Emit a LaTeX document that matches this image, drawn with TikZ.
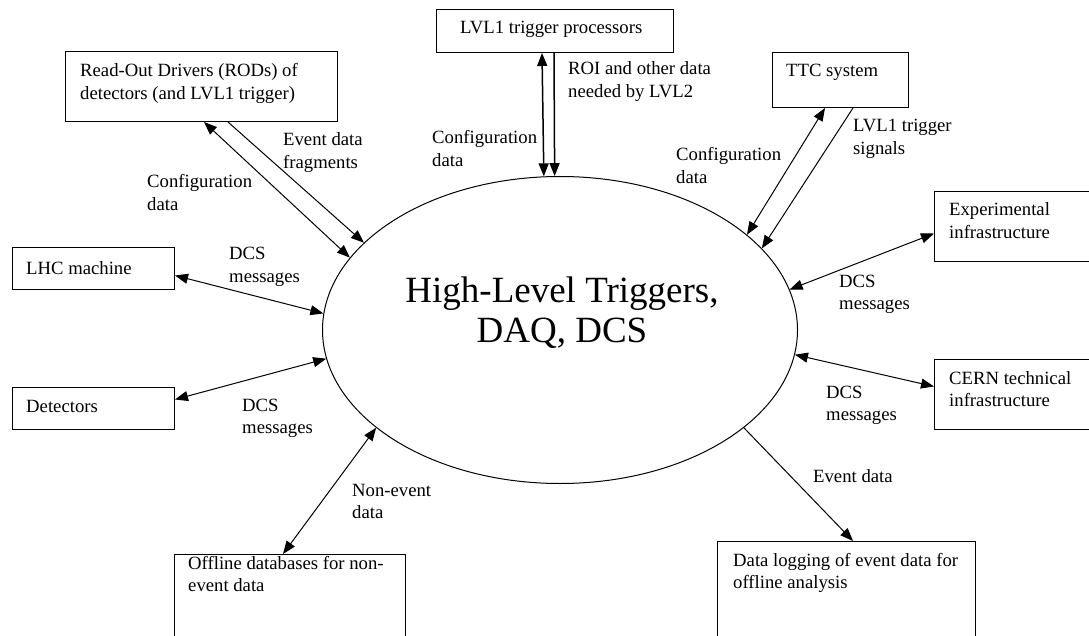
\documentclass[tikz,border=0pt]{standalone}
\usepackage{fontspec}
\setmainfont{Liberation Serif}
\usetikzlibrary{arrows.meta,shapes.geometric,calc}
\begin{document}
\begin{tikzpicture}[x=1pt,y=-1pt,
  box/.style={draw, line width=1pt, inner sep=0pt, anchor=north west},
  txt/.style={inner sep=0pt, anchor=base west, align=left,
    font=\fontsize{18.7}{22.5}\selectfont},
  big/.style={inner sep=0pt, anchor=base, align=center,
    font=\fontsize{37}{40}\selectfont},
  conn/.style={line width=1pt},
  vconn/.style={line width=1.5pt},
  tip/.style={-{Triangle[length=13pt,width=10pt]}},
  tips/.style={{Triangle[length=13pt,width=10pt]}-{Triangle[length=13pt,width=10pt]}}]
\clip (0,0) rectangle (1089,636);
\fill[white] (0,0) rectangle (1089,636);

% central ellipse
\node[draw, line width=1pt, ellipse, minimum width=475pt, minimum height=307pt, inner sep=0pt] (core) at (560,330) {};
\node[big] (coret) at (562,342) {High-Level Triggers,\\DAQ, DCS};

% boxes
\node[box, minimum width=272pt, minimum height=70pt] (rod) at (65,51) {};
\node[box, minimum width=237pt, minimum height=43pt] (lvl1) at (436,9) {};
\node[box, minimum width=136pt, minimum height=55pt] (ttc) at (772,52) {};
\node[box, minimum width=162pt, minimum height=42pt] (lhc) at (12,247) {};
\node[box, minimum width=162pt, minimum height=42pt] (det) at (12,387) {};
\node[box, minimum width=170pt, minimum height=70pt] (exp) at (934,191) {};
\node[box, minimum width=170pt, minimum height=70pt] (cern) at (934,359) {};
\node[box, minimum width=231pt, minimum height=120pt] (off) at (174,554) {};
\node[box, minimum width=258pt, minimum height=120pt] (log) at (717,541) {};

% box texts (base = baseline of last line)
\node[txt] (rodt) at (80,99.5) {Read-Out Drivers (RODs) of\\detectors (and LVL1 trigger)};
\node[txt] (lvl1t) at (460,34) {LVL1 trigger processors};
\node[txt] (ttct) at (786,77) {TTC system};
\node[txt] (lhct) at (26,274) {LHC machine};
\node[txt] (dett) at (26,412) {Detectors};
\node[txt] (expt) at (949,238.5) {Experimental\\infrastructure};
\node[txt] (cernt) at (949,406.5) {CERN technical\\infrastructure};
\node[txt] (offt) at (188,591.5) {Offline databases for non-\\event data};
\node[txt] (logt) at (733,588.5) {Data logging of event data for\\offline analysis};

% connectors
\draw[conn, tips] ($(rod.south west)+(139,0)$) -- (core.161.2);
\draw[conn, tip] ($(rod.south west)+(163,0)$) -- (core.156.8);
\draw[vconn, tips] ($(lvl1.south west)+(106,0)$) -- (core.96.7);
\draw[vconn, tip] ($(lvl1.south west)+(118,0)$) -- (core.92.2);
\draw[conn, tips] ($(ttc.south west)+(53,0)$) -- (core.27.9);
\draw[conn, tip] ($(ttc.south west)+(81,0)$) -- (core.22.6);
\draw[conn, tips] ($(lhc.east)+(0,7)$) -- (core.176.4);
\draw[conn, tips] ($(det.east)+(0,-9)$) -- (core.187.0);
\draw[conn, tips] ($(exp.west)+(0,7)$) -- (core.10.6);
\draw[conn, tips] ($(cern.west)+(0,-8)$) -- (core.-6.7);
\draw[conn, tips] ($(off.north west)+(109,0)$) -- (core.208.5);
\draw[conn, tip] (core.-28.3) -- ($(log.north west)+(136,0)$);

% connector labels
\node[txt] (l1) at (283,168.5) {Event data\\fragments};
\node[txt] (l2) at (147,210.5) {Configuration\\data};
\node[txt] (l3) at (229,282.5) {DCS\\messages};
\node[txt] (l4) at (568,97.5) {ROI and other data\\needed by LVL2};
\node[txt] (l5) at (432,166.5) {Configuration\\data};
\node[txt] (l6) at (853,154.5) {LVL1 trigger\\signals};
\node[txt] (l7) at (676,183.5) {Configuration\\data};
\node[txt] (l8) at (839,309.5) {DCS\\messages};
\node[txt] (l9) at (826,420.5) {DCS\\messages};
\node[txt] (l10) at (813,482) {Event data};
\node[txt] (l11) at (242,433.5) {DCS\\messages};
\node[txt] (l12) at (352,518.5) {Non-event\\data};
\end{tikzpicture}
\end{document}
